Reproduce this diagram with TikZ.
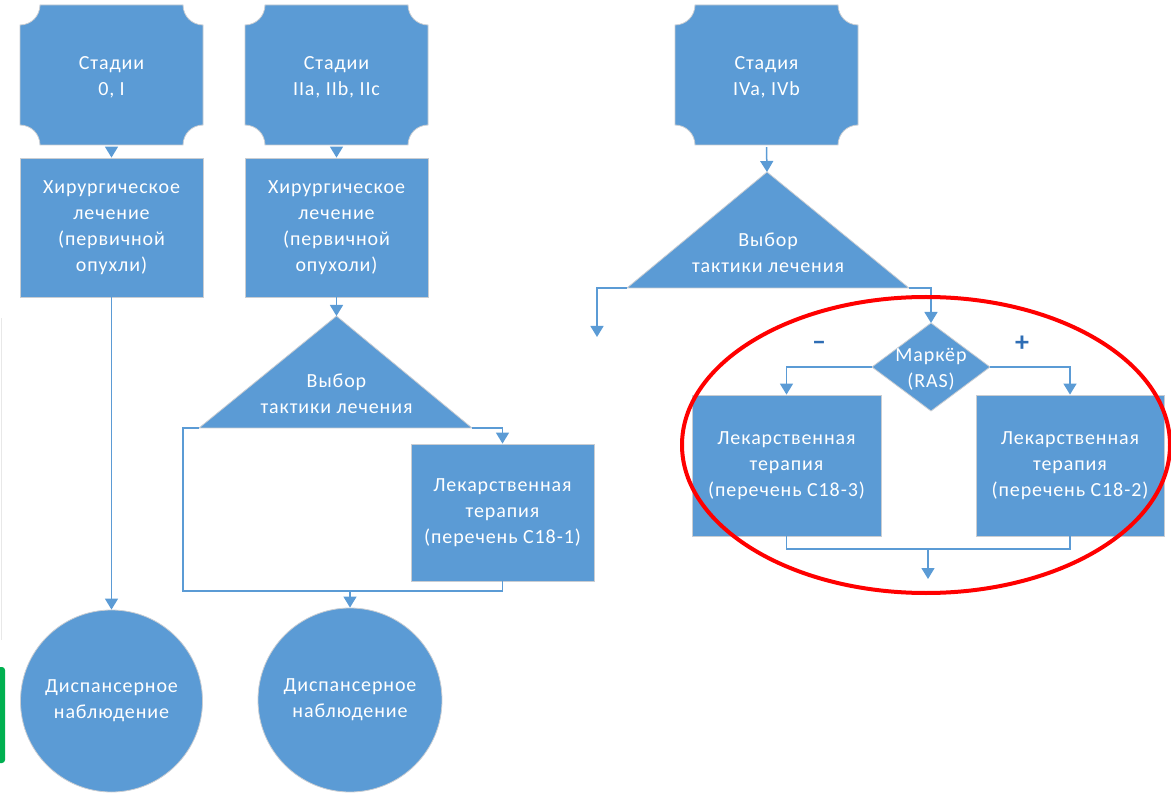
\documentclass[tikz,border=0pt]{standalone}
\usepackage{fontspec}
\setmainfont{Carlito}[LetterSpace=4.5]
\usetikzlibrary{arrows.meta}
\definecolor{fillblue}{HTML}{5B9BD5}
\definecolor{lineblue}{HTML}{5B9BD5}
\definecolor{edgegray}{HTML}{C9CDD2}
\definecolor{signblue}{HTML}{2E6DB4}
\definecolor{gmark}{HTML}{00B050}
\newcommand\concavebox[4]{%
  \filldraw[flow] (#1+20,#2) -- (#3-20,#2) arc[start angle=180,end angle=90,radius=20]
   -- (#3,#4-20) arc[start angle=270,end angle=180,radius=20]
   -- (#1+20,#4) arc[start angle=0,end angle=-90,radius=20]
   -- (#1,#2+20) arc[start angle=90,end angle=0,radius=20] -- cycle;}
\tikzset{
  flow/.style={fill=fillblue, draw=edgegray, line width=0.8pt},
  lbl/.style={text=white, align=center, font=\fontsize{20}{26}\selectfont, inner sep=0pt},
  rbox/.style={flow, lbl, rectangle},
  cnode/.style={lbl, rectangle, minimum width=183pt, minimum height=140pt},
  circ/.style={flow, lbl, circle},
  conn/.style={draw=lineblue, line width=1.5pt},
  arr/.style={conn, -{Triangle[width=13pt,length=11pt]}},
  sign/.style={text=signblue, font=\fontsize{28}{28}\selectfont\bfseries, inner sep=0pt},
}
\begin{document}
\begin{tikzpicture}[x=1pt,y=-1pt]
\useasboundingbox (0,0) rectangle (1171,794);
% left-edge artefacts
\draw[gray!18, line width=0.6pt] (1.5,318) -- (1.5,640);
\fill[gmark, rounded corners=3pt] (-6,667) rectangle (5,763);

% ---------- column 1 ----------
\concavebox{20}{5}{203}{145}
\node[cnode] (s1) at (111.5,77) {Стадии\\0, I};
\node[rbox, minimum width=183pt, minimum height=139pt] (h1) at (111.5,227.5) {Хирургическое\\лечение\\(первичной\\опухли)};
\node[circ, minimum size=182pt] (c1) at (111.5,701) {Диспансерное\\наблюдение};
\draw[arr] (s1.south) -- (h1.north);
\draw[arr] (h1.south) -- (c1.north);

% ---------- column 2 ----------
\concavebox{245}{5}{428}{145}
\node[cnode] (s2) at (336.5,77) {Стадии\\IIa, IIb, IIc};
\node[rbox, minimum width=183pt, minimum height=139pt] (h2) at (336.5,227.5) {Хирургическое\\лечение\\(первичной\\опухоли)};
\coordinate (t2a) at (336.5,316);
\coordinate (t2l) at (199,428);
\coordinate (t2r) at (472,428);
\filldraw[flow] (t2a) -- (t2r) -- (t2l) -- cycle;
\node[lbl] (t2) at (336.5,394) {Выбор\\тактики лечения};
\node[rbox, minimum width=183pt, minimum height=137pt] (L1) at (502.5,512.5) {Лекарственная\\терапия\\(перечень С18-1)};
\coordinate (k2) at (183,591);
\coordinate (j2) at (350,591);
\node[circ, minimum size=184pt] (c2) at (350,700) {Диспансерное\\наблюдение};
\draw[arr] (s2.south) -- (h2.north);
\draw[arr] (h2.south) -- (t2a);
\draw[arr] (t2r) -| (L1.north);
\draw[conn] (t2l) -| (k2) -| (L1.south);
\draw[arr] (j2) -- (c2.north);

% ---------- column 3 ----------
\concavebox{675}{5}{858}{145}
\node[cnode] (s3) at (766.5,77) {Стадия\\IVa, IVb};
\coordinate (t3a) at (767,172);
\coordinate (t3l) at (627,288);
\coordinate (t3r) at (909,288);
\filldraw[flow] (t3a) -- (t3r) -- (t3l) -- cycle;
\node[lbl] (t3) at (768,253) {Выбор\\тактики лечения};
\coordinate (f3) at (597,337);
\coordinate (dN) at (931,323);
\coordinate (dE) at (990,367);
\coordinate (dS) at (931,411);
\coordinate (dW) at (872,367);
\filldraw[flow] (dN) -- (dE) -- (dS) -- (dW) -- cycle;
\node[lbl] (d) at (931,369) {Маркёр\\(RAS)};
\node[rbox, minimum width=189pt, minimum height=141pt] (L3) at (786.5,465.5) {Лекарственная\\терапия\\(перечень С18-3)};
\node[rbox, minimum width=188pt, minimum height=141pt] (L2) at (1070,465.5) {Лекарственная\\терапия\\(перечень С18-2)};
\coordinate (j3) at (928,549);
\coordinate (e3) at (928,579);
\draw[arr] (s3.south) -- (t3a);
\draw[arr] (t3l) -| (f3);
\draw[arr] (t3r) -| (dN);
\draw[arr] (dW) -| (L3.north);
\draw[arr] (dE) -| (L2.north);
\draw[conn] (L3.south) |- (j3) -| (L2.south);
\draw[arr] (j3) -- (e3);
\node[sign] (minus) at (819,346) {–};
\node[sign] (plus) at (1022,344) {+};

% red highlight
\draw[red, line width=4pt] (926,445) ellipse [x radius=244, y radius=148];
\end{tikzpicture}
\end{document}
